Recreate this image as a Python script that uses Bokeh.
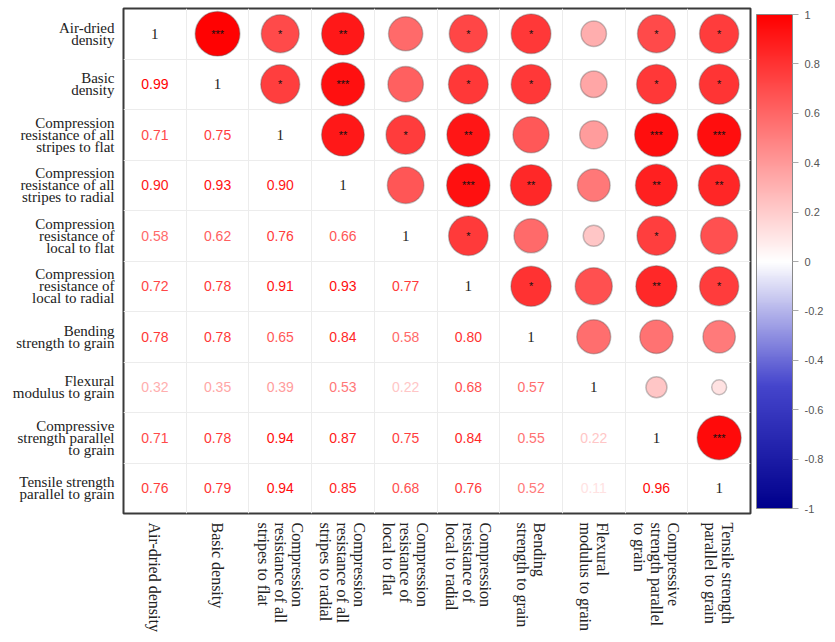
import math
from bokeh.plotting import figure
from bokeh.models import (Range1d, FixedTicker, ColorBar, LinearColorMapper,
                          ColumnDataSource, CustomJSTickFormatter)
from bokeh.transform import transform
from bokeh.core.properties import value
from bokeh.embed import file_html
from bokeh.resources import INLINE

row_labels = [
    "Air-dried\ndensity",
    "Basic\ndensity",
    "Compression\nresistance of all\nstripes to flat",
    "Compression\nresistance of all\nstripes to radial",
    "Compression\nresistance of\nlocal to flat",
    "Compression\nresistance of\nlocal to radial",
    "Bending\nstrength to grain",
    "Flexural\nmodulus to grain",
    "Compressive\nstrength parallel\nto grain",
    "Tensile strength\nparallel to grain",
]
col_labels = [
    "Air-dried density",
    "Basic density",
    "Compression\nresistance of all\nstripes to flat",
    "Compression\nresistance of all\nstripes to radial",
    "Compression\nresistance of\nlocal to flat",
    "Compression\nresistance of\nlocal to radial",
    "Bending\nstrength to grain",
    "Flexural\nmodulus to grain",
    "Compressive\nstrength parallel\nto grain",
    "Tensile strength\nparallel to grain",
]

# lower triangle of the correlation matrix, row by row (diagonal = 1)
corr_rows = [
    [1],
    [0.99, 1],
    [0.71, 0.75, 1],
    [0.90, 0.93, 0.90, 1],
    [0.58, 0.62, 0.76, 0.66, 1],
    [0.72, 0.78, 0.91, 0.93, 0.77, 1],
    [0.78, 0.78, 0.65, 0.84, 0.58, 0.80, 1],
    [0.32, 0.35, 0.39, 0.53, 0.22, 0.68, 0.57, 1],
    [0.71, 0.78, 0.94, 0.87, 0.75, 0.84, 0.55, 0.22, 1],
    [0.76, 0.79, 0.94, 0.85, 0.68, 0.76, 0.52, 0.11, 0.96, 1],
]

# significance marks of the upper triangle, row by row (columns right of diagonal)
sig_rows = [
    ["***", "*", "**", "", "*", "*", "", "*", "*"],
    ["*", "***", "", "*", "*", "", "*", "*"],
    ["**", "*", "**", "", "", "***", "***"],
    ["", "***", "**", "", "**", "**"],
    ["*", "", "", "*", ""],
    ["*", "", "**", "*"],
    ["", "", ""],
    ["", ""],
    ["***"],
]

colorbar_ticks = [-1, -0.8, -0.6, -0.4, -0.2, 0, 0.2, 0.4, 0.6, 0.8, 1]

n = len(row_labels)

# palette: dark blue -> white -> red
stops = [(-1.0, (0, 0, 140)), (-0.5, (70, 70, 205)), (0.0, (255, 255, 255)), (1.0, (255, 0, 0))]
palette = []
for k in range(256):
    v = -1 + 2 * k / 255
    for (a, ca), (b, cb) in zip(stops[:-1], stops[1:]):
        if a <= v <= b:
            t = (v - a) / (b - a)
            c = tuple(int(round(ca[m] + (cb[m] - ca[m]) * t)) for m in range(3))
            break
    palette.append("#%02x%02x%02x" % c)
mapper = LinearColorMapper(palette=palette, low=-1, high=1)

lower = dict(x=[], y=[], r=[], label=[])
upper = dict(x=[], y=[], r=[], rad=[], star=[])
diag = dict(x=[], y=[], label=[])
for i in range(n):
    for j in range(n):
        if j < i:
            r = corr_rows[i][j]
            lower["x"].append(j); lower["y"].append(i)
            lower["r"].append(r); lower["label"].append("%.2f" % r)
        elif j > i:
            r = corr_rows[j][i]
            upper["x"].append(j); upper["y"].append(i)
            upper["r"].append(r); upper["rad"].append(0.445 * math.sqrt(abs(r)))
            upper["star"].append(sig_rows[i][j - i - 1])
        else:
            diag["x"].append(i); diag["y"].append(i); diag["label"].append("1")

p = figure(width=835, height=642, x_range=Range1d(-0.5, n - 0.5), y_range=Range1d(n - 0.5, -0.5),
           output_backend="svg", toolbar_location=None,
           min_border_left=123, min_border_top=8, min_border_bottom=129, min_border_right=85)
p.background_fill_color = "white"
p.border_fill_color = "white"
p.outline_line_color = "#3a3a3a"
p.outline_line_width = 2

p.xgrid.ticker = FixedTicker(ticks=[k + 0.5 for k in range(n - 1)])
p.ygrid.ticker = FixedTicker(ticks=[k + 0.5 for k in range(n - 1)])
p.grid.grid_line_color = "#ececec"
p.grid.grid_line_width = 1

p.xaxis.ticker = FixedTicker(ticks=list(range(n)))
p.yaxis.ticker = FixedTicker(ticks=list(range(n)))
p.xaxis.major_label_overrides = {k: col_labels[k] for k in range(n)}
p.yaxis.major_label_overrides = {k: row_labels[k] for k in range(n)}
p.axis.axis_line_color = None
p.axis.major_tick_line_color = None
p.axis.minor_tick_line_color = None
p.axis.major_label_text_font = "Liberation Serif"
p.axis.major_label_text_color = "#222222"
p.yaxis.major_label_text_font_size = "15px"
p.yaxis.major_label_text_line_height = 0.75
p.yaxis.major_label_standoff = 3
p.xaxis.major_label_text_font_size = "16px"
p.xaxis.major_label_text_line_height = 1.0
p.xaxis.major_label_orientation = -math.pi / 2
p.xaxis.major_label_standoff = 3

src_up = ColumnDataSource(upper)
p.circle(x="x", y="y", radius="rad", radius_dimension="y", source=src_up,
         fill_color=transform("r", mapper), line_color="#555555", line_alpha=0.35, line_width=1.5)
p.text(x="x", y="y", text="star", source=src_up, text_color="#111111",
       text_font=value("Liberation Sans"), text_font_size="11px",
       text_align="center", text_baseline="middle")

p.text(x="x", y="y", text="label", source=ColumnDataSource(lower),
       text_color=transform("r", mapper), text_font=value("Liberation Sans"),
       text_font_size="14px", text_align="center", text_baseline="middle")

p.text(x="x", y="y", text="label", source=ColumnDataSource(diag),
       text_color="#222222", text_font=value("Liberation Serif"),
       text_font_size="15px", text_align="center", text_baseline="middle")

cb = ColorBar(color_mapper=mapper, width=36, height=494,
              ticker=FixedTicker(ticks=colorbar_ticks),
              formatter=CustomJSTickFormatter(code="return tick.toFixed(1).replace(/\\.0$/, '');"),
              major_tick_in=0, major_tick_out=6, major_tick_line_color="#aaaaaa",
              minor_tick_line_color=None,
              major_label_text_font="Liberation Sans", major_label_text_font_size="11px",
              major_label_text_color="#555555", label_standoff=6,
              bar_line_color="#888888", border_line_color=None,
              background_fill_color=None, padding=6, margin=7)
p.add_layout(cb, "right")

open("out.html", "w").write(file_html(p, INLINE))
